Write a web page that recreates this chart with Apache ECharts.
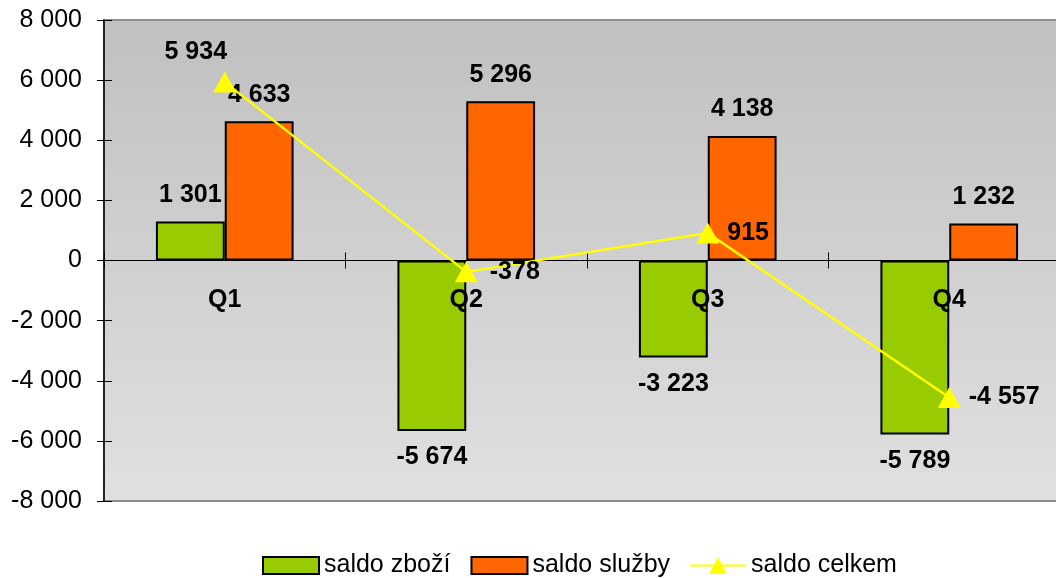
<!DOCTYPE html>
<html>
<head>
<meta charset="utf-8">
<script src="https://cdn.jsdelivr.net/npm/echarts@6/dist/echarts.min.js"></script>
<style>
  html, body { margin: 0; padding: 0; background: #fff; }
  #main { width: 1056px; height: 578px; }
</style>
</head>
<body>
<div id="main"></div>
<script>
var categories = ['Q1', 'Q2', 'Q3', 'Q4'];
var saldoZbozi = [1301, -5674, -3223, -5789];
var saldoSluzby = [4633, 5296, 4138, 1232];
var saldoCelkem = [5934, -378, 915, -4557];

// mezery jako oddělovač tisíců
var fmt = function (v) {
    var s = String(Math.abs(v)).replace(/\B(?=(\d{3})+(?!\d))/g, ' ');
    return (v < 0 ? '-' : '') + s;
};

var font = 'Liberation Sans, Arial, sans-serif';
var fs = 25;

var barData = function (arr) {
    return arr.map(function (v) {
        return { value: v, label: { position: v < 0 ? 'bottom' : 'top' } };
    });
};

// pozice popisků u čáry
var lineLabel = [
    { position: 'top', offset: [-29, -2] },
    { position: 'right', distance: 12 },
    { position: 'right', distance: 8 },
    { position: 'right', distance: 8 }
];

var myChart = echarts.init(document.getElementById('main'));

var barLabel = {
    show: true,
    distance: 14,
    color: '#000',
    fontFamily: font,
    fontSize: fs,
    fontWeight: 'bold',
    formatter: function (p) { return fmt(p.value); }
};

// osa x leží na nule: posun od spodního okraje gridu
var gridTop = 20, gridHeight = 481;
var zeroOffset = -gridHeight / 2;

// ikonka legendy: čára s trojúhelníkem
var lineIcon = 'path://M0,7.5 L56,7.5 L56,9.5 L0,9.5 Z M28,0 L37,17 L19,17 Z';

myChart.setOption({
    animation: false,
    textStyle: { fontFamily: font },
    grid: {
        left: 104,
        top: gridTop,
        width: 966,
        height: gridHeight,
        outerBoundsMode: 'none',
        containLabel: false,
        show: true,
        borderColor: '#8c8c8c',
        borderWidth: 2,
        backgroundColor: new echarts.graphic.LinearGradient(0, 0, 0, 1, [
            { offset: 0, color: '#c0c0c0' },
            { offset: 1, color: '#e0e0e0' }
        ])
    },
    legend: {
        top: 548,
        left: 257,
        itemWidth: 56,
        itemHeight: 17,
        itemGap: 20,
        textStyle: { fontSize: fs, color: '#000', fontFamily: font },
        data: [
            { name: 'saldo zboží', icon: 'rect', itemStyle: { borderColor: '#000', borderWidth: 2 } },
            { name: 'saldo služby', icon: 'rect', itemStyle: { borderColor: '#000', borderWidth: 2 } },
            { name: 'saldo celkem', icon: lineIcon, itemStyle: { color: '#ffff00', borderWidth: 0 } }
        ]
    },
    xAxis: [
        {
            type: 'category',
            data: categories,
            position: 'bottom',
            offset: zeroOffset,
            z: 4,
            axisLine: { onZero: false, lineStyle: { color: '#000', width: 1 } },
            axisTick: { show: true, length: 8, lineStyle: { color: '#000' } },
            axisLabel: {
                color: '#000', fontSize: fs, fontWeight: 'bold', fontFamily: font, margin: 27
            },
            splitLine: { show: false }
        },
        {
            type: 'category',
            data: categories,
            position: 'bottom',
            offset: zeroOffset,
            z: 4,
            axisLine: { show: false, onZero: false },
            axisTick: { show: true, inside: true, length: 8, lineStyle: { color: '#000' } },
            axisLabel: { show: false },
            splitLine: { show: false }
        }
    ],
    yAxis: [
        {
            type: 'value',
            min: -8000,
            max: 8000,
            interval: 2000,
            axisLine: { show: true, onZero: false, lineStyle: { color: '#000', width: 1.5 } },
            axisTick: { show: true, length: 7, lineStyle: { color: '#000' } },
            axisLabel: {
                color: '#000', fontSize: fs, fontFamily: font, margin: 22,
                formatter: fmt
            },
            splitLine: { show: false }
        },
        {
            type: 'value',
            min: -8000,
            max: 8000,
            interval: 2000,
            position: 'left',
            axisLine: { show: false, onZero: false },
            axisTick: { show: true, inside: true, length: 8, lineStyle: { color: '#000' } },
            axisLabel: { show: false },
            splitLine: { show: false }
        }
    ],
    series: [
        {
            name: 'saldo zboží',
            type: 'bar',
            barGap: '0%',
            barCategoryGap: '43%',
            itemStyle: { color: '#99cc00', borderColor: '#000', borderWidth: 2 },
            label: barLabel,
            data: barData(saldoZbozi)
        },
        {
            name: 'saldo služby',
            type: 'bar',
            itemStyle: { color: '#ff6600', borderColor: '#000', borderWidth: 2 },
            label: barLabel,
            data: barData(saldoSluzby)
        },
        {
            name: 'saldo celkem',
            type: 'line',
            z: 5,
            symbol: 'triangle',
            symbolSize: [23, 21],
            lineStyle: { color: '#ffff00', width: 2.5 },
            itemStyle: { color: '#ffff00' },
            label: {
                show: true,
                color: '#000',
                fontFamily: font,
                fontSize: fs,
                fontWeight: 'bold',
                formatter: function (p) { return fmt(p.value); }
            },
            data: saldoCelkem.map(function (v, i) {
                return { value: v, label: lineLabel[i] };
            })
        }
    ]
});
</script>
</body>
</html>
